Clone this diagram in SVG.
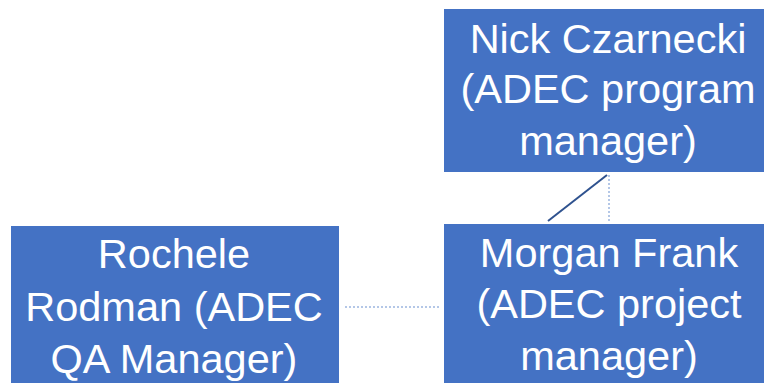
<svg xmlns="http://www.w3.org/2000/svg" width="764" height="383" viewBox="0 0 764 383">
<style>
.box{fill:#4472C4;}
.t{font-family:"Liberation Sans",Arial,sans-serif;font-size:41.5px;fill:#FFFFFF;text-anchor:middle;}
.solid{stroke:#2F528F;stroke-width:2;fill:none;}
.dot{stroke:#B4C7E7;stroke-width:2;stroke-dasharray:2 2;fill:none;}
</style>
<rect width="764" height="383" fill="#FFFFFF"/>
<g id="connectors">
<line class="solid" x1="607" y1="175" x2="548" y2="221"/>
<line class="dot" x1="609" y1="175" x2="609" y2="221"/>
<line class="dot" x1="345" y1="307" x2="440" y2="307"/>
</g>
<g id="nick">
<rect class="box" x="444" y="9" width="320" height="163"/>
<text class="t" x="608" y="53">Nick Czarnecki</text>
<text class="t" x="608" y="103">(ADEC program</text>
<text class="t" x="608" y="155">manager)</text>
</g>
<g id="morgan">
<rect class="box" x="444" y="224" width="320" height="159"/>
<text class="t" x="609" y="267">Morgan Frank</text>
<text class="t" x="609" y="318">(ADEC project</text>
<text class="t" x="609" y="370">manager)</text>
</g>
<g id="rochele">
<rect class="box" x="11" y="226" width="328" height="157"/>
<text class="t" x="174" y="268">Rochele</text>
<text class="t" x="174" y="321">Rodman (ADEC</text>
<text class="t" x="174" y="373">QA Manager)</text>
</g>
</svg>
